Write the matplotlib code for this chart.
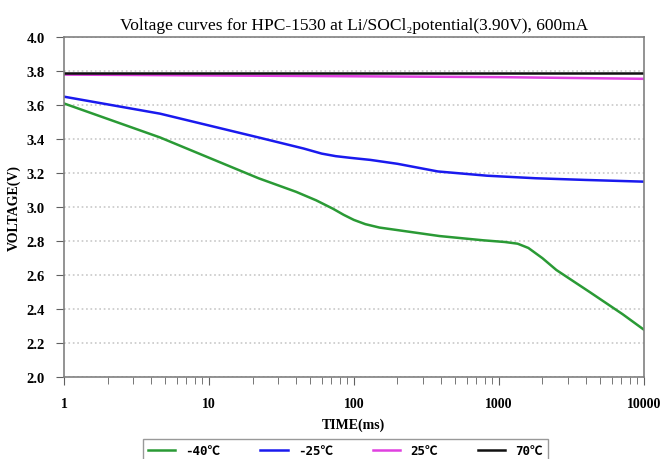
import numpy as np
import matplotlib
matplotlib.use("Agg")
import matplotlib.pyplot as plt
from matplotlib.ticker import FixedLocator, LogLocator, NullFormatter

# -40C curve
t_m40 = [1, 4.6, 22, 40, 55, 72, 85, 100, 120, 150, 200, 390, 780, 1100, 1350, 1600, 2000, 2500, 4250, 7160, 10000]
v_m40 = [3.61, 3.41, 3.17, 3.09, 3.04, 2.99, 2.955, 2.925, 2.9, 2.88, 2.865, 2.83, 2.805, 2.795, 2.785, 2.76, 2.70, 2.63, 2.50, 2.37, 2.28]

# -25C curve
t_m25 = [1, 4.6, 22, 45, 60, 75, 95, 130, 200, 380, 830, 1800, 4000, 10000]
v_m25 = [3.65, 3.55, 3.41, 3.345, 3.315, 3.30, 3.29, 3.278, 3.255, 3.21, 3.185, 3.17, 3.16, 3.15]

# 25C curve
t_25 = [1, 10, 100, 1000, 10000]
v_25 = [3.78, 3.775, 3.77, 3.765, 3.755]

# 70C curve
t_70 = [1, 10, 100, 1000, 10000]
v_70 = [3.79, 3.79, 3.79, 3.79, 3.79]

labels = ["-40\u2103", "-25\u2103", "25\u2103", "70\u2103"]
colors = ["#2a9a35", "#1a1aee", "#e040e0", "#111111"]

serif = ["Liberation Serif", "DejaVu Serif"]

fig = plt.figure(figsize=(6.64, 4.6), dpi=100)
ax = fig.add_axes([0.0964, 0.178, 0.873, 0.739])

series = [(t_m40, v_m40), (t_m25, v_m25), (t_25, v_25), (t_70, v_70)]
for (t, v), lab, c in zip(series, labels, colors):
    ax.plot(t, v, color=c, lw=1.8, label=lab)

ax.set_xscale("log")
ax.set_xlim(1, 10000)
ax.set_ylim(2.0, 4.0)
ax.xaxis.set_major_locator(FixedLocator([1, 10, 100, 1000, 10000]))
ax.set_xticklabels(["1", "10", "100", "1000", "10000"])
ax.xaxis.set_minor_locator(LogLocator(base=10, subs=np.arange(2, 10)))
ax.xaxis.set_minor_formatter(NullFormatter())
ax.set_yticks(np.arange(2.0, 4.01, 0.2))
ax.set_yticklabels([f"{y:.1f}" for y in np.arange(2.0, 4.01, 0.2)])

ax.grid(axis="y", color="#c8c8c8", linestyle=":", linewidth=1.2)
ax.set_axisbelow(True)

for s in ax.spines.values():
    s.set_color("#808080")
    s.set_linewidth(1.2)

ax.tick_params(axis="both", which="major", direction="out", length=6,
               color="#606060", labelsize=10.5, pad=8)
ax.tick_params(axis="x", which="major", labelsize=10)
ax.tick_params(axis="x", which="minor", direction="out", length=5, color="#606060")
for lbl in ax.get_xticklabels() + ax.get_yticklabels():
    lbl.set_fontfamily(serif)
    lbl.set_fontweight("bold")

ax.set_xlabel("TIME(ms)", fontfamily=serif, fontweight="bold", fontsize=10, labelpad=6)
ax.set_ylabel("VOLTAGE(V)", fontfamily=serif, fontweight="bold", fontsize=10, labelpad=4)
ax.set_title("Voltage curves for HPC-1530 at Li/SOCl\u2082potential(3.90V), 600mA",
             fontfamily=serif, fontsize=12.5, pad=6)

leg = fig.legend(loc="lower center", bbox_to_anchor=(0.52, -0.02), ncol=4,
                 frameon=True, fancybox=False, edgecolor="#808080",
                 prop={"family": ["DejaVu Sans Mono", "Noto Sans CJK SC"],
                       "weight": "bold", "size": 9},
                 handlelength=2.2, columnspacing=3.2, borderpad=0.4)
leg.get_frame().set_linewidth(1.0)

fig.savefig("out.png", dpi=100)
